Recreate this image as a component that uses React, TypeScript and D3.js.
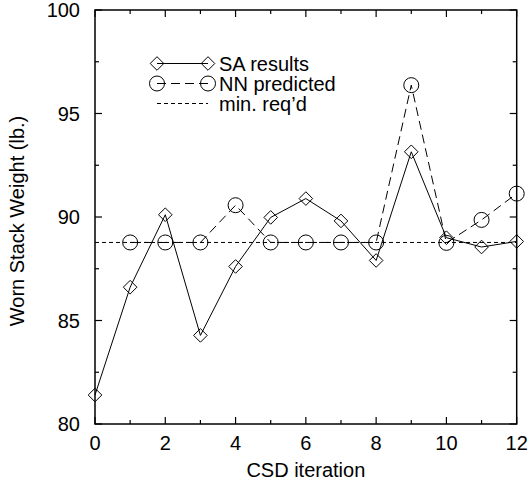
import React from "react";
import * as d3 from "d3";

const iterations = [0, 1, 2, 3, 4, 5, 6, 7, 8, 9, 10, 11, 12];
const saResults = [81.4, 86.61, 90.11, 84.28, 87.61, 89.98, 90.89, 89.81, 87.9, 93.15, 89.0, 88.55, 88.82];
const nnIterations = [1, 2, 3, 4, 5, 6, 7, 8, 9, 10, 11, 12];
const nnPredicted = [88.77, 88.77, 88.77, 90.57, 88.77, 88.77, 88.77, 88.77, 96.37, 88.75, 89.86, 91.13];
const minReq = 88.77;
const xTicks = [0, 2, 4, 6, 8, 10, 12];
const xMinorTicks = [1, 3, 5, 7, 9, 11];
const yTicks = [80, 85, 90, 95, 100];
const yMinorTicks = [82.5, 87.5, 92.5, 97.5];
const legendLabels = ["SA results", "NN predicted", "min. req\u2019d"];

const W = 529, H = 486;
const L = 95, R = 516.7, T = 10, B = 424;
const FONT = "'Liberation Sans', Arial, Helvetica, sans-serif";

function diamondPath(cx: number, cy: number, s = 6.8) {
  return `M${cx},${cy - s}L${cx + s},${cy}L${cx},${cy + s}L${cx - s},${cy}Z`;
}

export default function App() {
  const x = d3.scaleLinear().domain([0, 12]).range([L, R]);
  const y = d3.scaleLinear().domain([80, 100]).range([B, T]);

  const saLine = d3.line<number>().x((_, i) => x(iterations[i])).y((d) => y(d));
  const nnLine = d3.line<number>().x((_, i) => x(nnIterations[i])).y((d) => y(d));

  const major = 7, minor = 4;
  const stroke = "#000";

  const lx1 = 157, lx2 = 208, ly = [63.5, 83.5, 103.5];

  return (
    <svg width={W} height={H} style={{ position: "absolute", left: 0, top: 0, background: "#fff" }} fontFamily={FONT}>
      <rect x={0} y={0} width={W} height={H} fill="#fff" />
      <line x1={x(0)} x2={x(12)} y1={y(minReq)} y2={y(minReq)} stroke={stroke} strokeWidth={1} strokeDasharray="4,3" />
      <path d={nnLine(nnPredicted) || ""} fill="none" stroke={stroke} strokeWidth={1} strokeDasharray="9,5" />
      <path d={saLine(saResults) || ""} fill="none" stroke={stroke} strokeWidth={1} />
      {nnPredicted.map((v, i) => (
        <circle key={"c" + i} cx={x(nnIterations[i])} cy={y(v)} r={7.5} fill="none" stroke={stroke} strokeWidth={1} />
      ))}
      {saResults.map((v, i) => (
        <path key={"d" + i} d={diamondPath(x(iterations[i]), y(v))} fill="none" stroke={stroke} strokeWidth={1} />
      ))}
      <rect x={L} y={T} width={R - L} height={B - T} fill="none" stroke={stroke} strokeWidth={1.5} />
      {xTicks.map((t) => (
        <g key={"xt" + t}>
          <line x1={x(t)} x2={x(t)} y1={B} y2={B - major} stroke={stroke} strokeWidth={1.2} />
          <line x1={x(t)} x2={x(t)} y1={T} y2={T + major} stroke={stroke} strokeWidth={1.2} />
          <text x={x(t)} y={450} textAnchor="middle" fontSize={20}>{t}</text>
        </g>
      ))}
      {xMinorTicks.map((t) => (
        <g key={"xm" + t}>
          <line x1={x(t)} x2={x(t)} y1={B} y2={B - minor} stroke={stroke} strokeWidth={1.2} />
          <line x1={x(t)} x2={x(t)} y1={T} y2={T + minor} stroke={stroke} strokeWidth={1.2} />
        </g>
      ))}
      {yTicks.map((t) => (
        <g key={"yt" + t}>
          <line x1={L} x2={L + major} y1={y(t)} y2={y(t)} stroke={stroke} strokeWidth={1.2} />
          <line x1={R} x2={R - major} y1={y(t)} y2={y(t)} stroke={stroke} strokeWidth={1.2} />
          <text x={80} y={y(t) + 7} textAnchor="end" fontSize={20}>{t}</text>
        </g>
      ))}
      {yMinorTicks.map((t) => (
        <g key={"ym" + t}>
          <line x1={L} x2={L + minor} y1={y(t)} y2={y(t)} stroke={stroke} strokeWidth={1.2} />
          <line x1={R} x2={R - minor} y1={y(t)} y2={y(t)} stroke={stroke} strokeWidth={1.2} />
        </g>
      ))}
      <text x={(L + R) / 2} y={477} textAnchor="middle" fontSize={20}>CSD iteration</text>
      <text transform={`translate(24, ${(T + B) / 2 + 4}) rotate(-90)`} textAnchor="middle" fontSize={20}>Worn Stack Weight (lb.)</text>
      <line x1={lx1} x2={lx2} y1={ly[0]} y2={ly[0]} stroke={stroke} strokeWidth={1} />
      <path d={diamondPath(lx1, ly[0])} fill="none" stroke={stroke} strokeWidth={1} />
      <path d={diamondPath(lx2, ly[0])} fill="none" stroke={stroke} strokeWidth={1} />
      <line x1={lx1} x2={lx2} y1={ly[1]} y2={ly[1]} stroke={stroke} strokeWidth={1} strokeDasharray="9,5" />
      <circle cx={lx1} cy={ly[1]} r={7.5} fill="none" stroke={stroke} strokeWidth={1} />
      <circle cx={lx2} cy={ly[1]} r={7.5} fill="none" stroke={stroke} strokeWidth={1} />
      <line x1={lx1} x2={lx2} y1={ly[2]} y2={ly[2]} stroke={stroke} strokeWidth={1} strokeDasharray="4,3" />
      {legendLabels.map((s, i) => (
        <text key={s} x={219} y={ly[i] + 7} fontSize={20}>{s}</text>
      ))}
    </svg>
  );
}
